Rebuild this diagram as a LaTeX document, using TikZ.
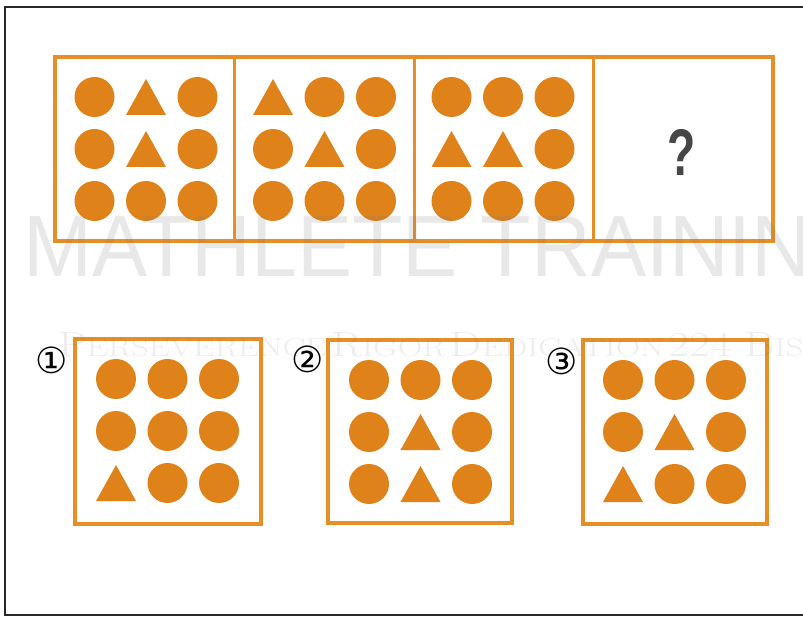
\documentclass[tikz,border=0pt]{standalone}
\usepackage{fontspec}
\newfontfamily\dejavu{DejaVu Sans}
\newfontfamily\wmsans{Liberation Sans}
\newfontfamily\qsans{Liberation Sans}
\definecolor{orgfill}{RGB}{224,130,26}
\definecolor{orgline}{RGB}{232,142,38}
\definecolor{qgray}{RGB}{70,70,70}
\definecolor{framegray}{RGB}{40,40,40}
\definecolor{wmgray}{RGB}{120,120,120}
\newcommand\shC[2]{\fill[orgfill] (#1,#2) circle[radius=20pt];}
\newcommand\shT[2]{\fill[orgfill] (#1-20,#2+18) -- (#1+20,#2+18) -- (#1,#2-18) -- cycle;}
\newcommand\rowpat[5]{% x-center, y-center, a, b, c
  \ifx#3c\shC{#1-51.5}{#2}\else\shT{#1-51.5}{#2}\fi
  \ifx#4c\shC{#1}{#2}\else\shT{#1}{#2}\fi
  \ifx#5c\shC{#1+51.5}{#2}\else\shT{#1+51.5}{#2}\fi}
\newcommand\bigL[1]{{\fontsize{35}{35}\selectfont #1}}
\newcommand\smL[1]{{\fontsize{26}{26}\selectfont #1}}
\tikzset{
  cellline/.style={draw=orgline, line width=3pt},
  outerline/.style={draw=orgline, line width=4pt},
  optbox/.style={draw=orgline, line width=4pt, fill=white},
  numlabel/.style={font=\dejavu\fontsize{36}{36}\selectfont, inner sep=0pt, text=black},
}
\begin{document}
\begin{tikzpicture}[x=1pt,y=-1pt]
\useasboundingbox (0,0) rectangle (803,617);
\fill[white] (0,0) rectangle (803,617);
% outer frame
\draw[framegray, line width=1.8pt] (803,7) -- (5,7) -- (5,615) -- (803,615);
% top strip
\draw[cellline] (234,57) -- (234,241);
\draw[cellline] (414,57) -- (414,241);
\draw[cellline] (593,57) -- (593,241);
\draw[outerline] (55,57) rectangle (773,241);
% cell 1
\rowpat{146}{97}{c}{t}{c}
\rowpat{146}{149}{c}{t}{c}
\rowpat{146}{201}{c}{c}{c}
% cell 2
\rowpat{324.5}{97}{t}{c}{c}
\rowpat{324.5}{149}{c}{t}{c}
\rowpat{324.5}{201}{c}{c}{c}
% cell 3
\rowpat{503}{97}{c}{c}{c}
\rowpat{503}{149}{t}{t}{c}
\rowpat{503}{201}{c}{c}{c}
% question mark
\node[inner sep=0pt, text=qgray] (q) at (682,152) {\scalebox{0.7}[1]{\qsans\bfseries\fontsize{66}{66}\selectfont ?}};
% option boxes
\draw[optbox] (75,339) rectangle (261,524);
\draw[optbox] (328,340) rectangle (512,523);
\draw[optbox] (583,340) rectangle (767,524);
% option 1
\rowpat{167.5}{379}{c}{c}{c}
\rowpat{167.5}{431}{c}{c}{c}
\rowpat{167.5}{483}{t}{c}{c}
% option 2
\rowpat{420.5}{380}{c}{c}{c}
\rowpat{420.5}{432}{c}{t}{c}
\rowpat{420.5}{484}{c}{t}{c}
% option 3
\rowpat{674.5}{380}{c}{c}{c}
\rowpat{674.5}{432}{c}{t}{c}
\rowpat{674.5}{484}{t}{c}{c}
% labels
\node[numlabel] (n1) at (52,360) {①};
\node[numlabel] (n2) at (308,359) {②};
\node[numlabel] (n3) at (562,361) {③};
% watermarks
\begin{scope}
\clip (0,0) rectangle (803,617);
\node[anchor=base west, inner sep=0pt, text=wmgray, opacity=0.17] (wm1) at (23,277)
  {\scalebox{0.95}[1]{\wmsans\fontsize{87}{87}\selectfont MATHLETE TRAINING}};
\node[anchor=base west, inner sep=0pt, text=wmgray, opacity=0.13] (wm2) at (58,357)
  {\resizebox{745pt}{\height}{\bigL{P}\smL{ERSEVERENCE} \bigL{R}\smL{IGOR} \bigL{D}\smL{EDICATION} \bigL{224 B}\smL{IS}}};
\end{scope}
\end{tikzpicture}
\end{document}
